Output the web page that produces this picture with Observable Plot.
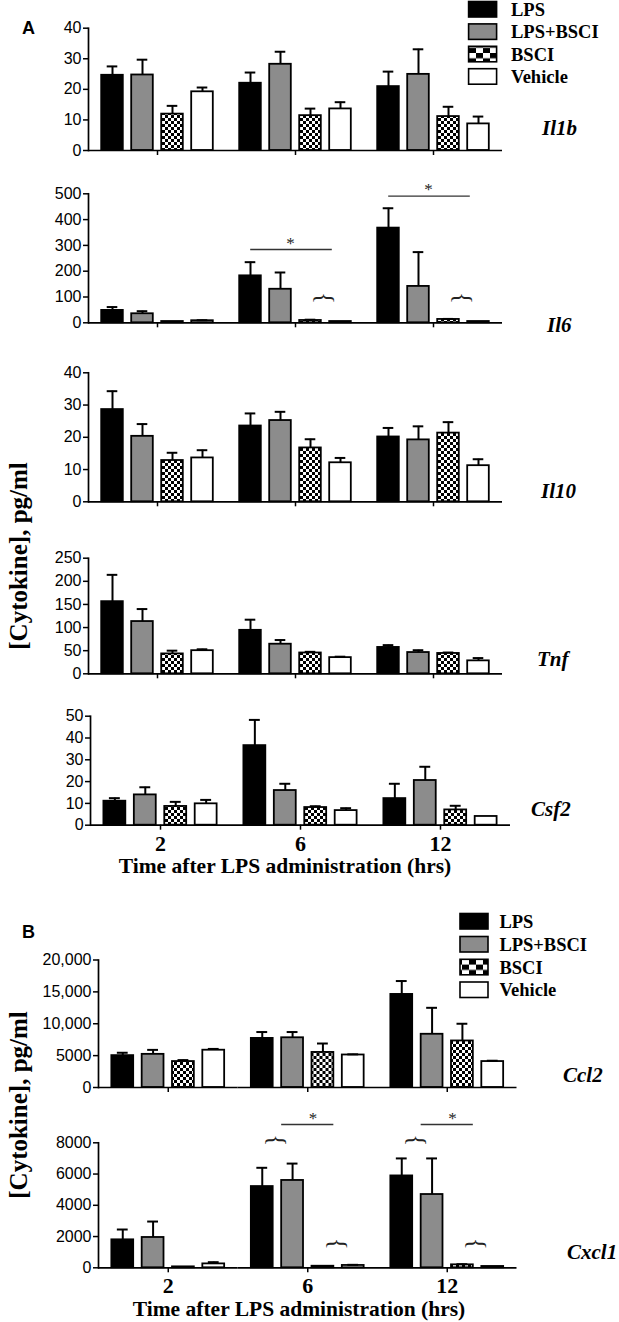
<!DOCTYPE html>
<html><head><meta charset="utf-8">
<script src="https://cdn.jsdelivr.net/npm/d3@7"></script>
<script src="https://cdn.jsdelivr.net/npm/@observablehq/plot@0.6"></script>
<style>
body{margin:0;background:#fff;}
#root{position:relative;width:619px;height:1322px;overflow:hidden;background:#fff;}
.abs{position:absolute;line-height:1;white-space:nowrap;color:#000;}
.gene{font:italic bold 21px "Liberation Serif","Times New Roman",serif;transform:translateY(-50%);}
.letter{font:bold 18px "Liberation Sans",Arial,sans-serif;transform:translateY(-50%);}
.title{font:bold 21.5px "Liberation Serif","Times New Roman",serif;transform:translate(-50%,-50%);}
.ylab{font:bold 25px "Liberation Serif","Times New Roman",serif;transform:translate(-50%,-50%) rotate(-90deg);}
</style></head><body><div id="root"></div>
<script>
// ---------- data ----------
const groups = ["LPS", "LPS+BSCI", "BSCI", "Vehicle"];
const times = ["2", "6", "12"];

const il1bMean = [[24.6, 24.7, 11.9, 19.2], [22.0, 28.2, 11.4, 13.6], [20.9, 24.9, 11.1, 8.7]];
const il1bSem  = [[2.9, 5.0, 2.7, 1.4], [3.5, 4.1, 2.3, 2.2], [4.9, 8.2, 3.2, 2.4]];
const il1bTicks = [0, 10, 20, 30, 40];

const il6Mean = [[48, 35, 5, 8], [182, 130, 9, 5], [367, 141, 13, 5]];
const il6Sem  = [[13, 10, 0, 2], [53, 65, 3, 0], [77, 133, 2, 0]];
const il6Ticks = [0, 100, 200, 300, 400, 500];

const il10Mean = [[28.6, 20.3, 12.8, 13.6], [23.5, 25.2, 16.7, 12.1], [20.1, 19.2, 21.3, 11.2]];
const il10Sem  = [[5.7, 3.8, 2.4, 2.4], [3.9, 2.7, 2.7, 1.5], [2.8, 4.2, 3.4, 2.0]];
const il10Ticks = [0, 10, 20, 30, 40];

const tnfMean = [[156, 113, 43, 50], [94, 64, 45, 35], [57, 46, 44, 28]];
const tnfSem  = [[58, 27, 7, 3], [23, 9, 2.5, 2], [5, 5, 2, 6]];
const tnfTicks = [0, 50, 100, 150, 200, 250];

const csf2Mean = [[11, 13.9, 8.6, 9.8], [36.5, 15.9, 8.1, 6.7], [12.2, 20.5, 7.0, 4.0]];
const csf2Sem  = [[1.4, 3.5, 2.1, 1.8], [11.8, 3.1, 0.6, 1.1], [6.8, 6.3, 1.9, 0]];
const csf2Ticks = [0, 10, 20, 30, 40, 50];

const ccl2Mean = [[5000, 5200, 4070, 5850], [7700, 7800, 5500, 5100], [14600, 8350, 7300, 4070]];
const ccl2Sem  = [[450, 700, 230, 200], [1000, 900, 1400, 100], [2100, 4150, 2700, 130]];
const ccl2Ticks = [0, 5000, 10000, 15000, 20000];
const ccl2TickLabels = ["0", "5000", "10,000", "15,000", "20,000"];

const cxcl1Mean = [[1790, 1940, 60, 250], [5200, 5590, 100, 150], [5880, 4690, 190, 85]];
const cxcl1Sem  = [[660, 1020, 0, 110], [1200, 1080, 0, 40], [1120, 2310, 40, 0]];
const cxcl1Ticks = [0, 2000, 4000, 6000, 8000];

// significance annotations
const il6Braces = [{time: "6", at: "BSCI", y: 96}, {time: "12", at: "BSCI", y: 96}];
const il6Sig = [{time: "6", from: "LPS", to: "BSCI", star: "LPS+BSCI", y: 284}, {time: "12", from: "LPS", to: "BSCI", star: "LPS+BSCI", y: 491}];
const cxcl1Braces = [
  {time: "6", at: "LPS", y: 8166}, {time: "6", at: "BSCI", y: 1536},
  {time: "12", at: "LPS", y: 8166}, {time: "12", at: "BSCI", y: 1536}];
const cxcl1Sig = [{time: "6", from: "LPS+BSCI", to: "BSCI", star: "BSCI", y: 9171}, {time: "12", from: "LPS+BSCI", to: "BSCI", star: "BSCI", y: 9171}];

const fills = ["#000000", "#8c8c8c", "url(#chk)", "#ffffff"];
const legendFills = ["#000000", "#8c8c8c", "url(#chkL)", "#ffffff"];

// ---------- page ----------
const root = document.getElementById("root");
root.insertAdjacentHTML("beforeend", `
<svg width="0" height="0" style="position:absolute">
 <defs>
  <pattern id="chk" patternUnits="userSpaceOnUse" width="6" height="6">
   <rect width="6" height="6" fill="#fff"/><rect width="3" height="3" fill="#000"/><rect x="3" y="3" width="3" height="3" fill="#000"/>
  </pattern>
  <pattern id="chkL" patternUnits="userSpaceOnUse" width="14" height="10.6">
   <rect width="14" height="10.6" fill="#fff"/><rect width="7" height="5.3" fill="#000"/><rect x="7" y="5.3" width="7" height="5.3" fill="#000"/>
  </pattern>
 </defs>
</svg>`);

function addText(cls, text, x, y) {
  const d = document.createElement("div");
  d.className = "abs " + cls;
  d.textContent = text;
  d.style.left = x + "px";
  d.style.top = y + "px";
  root.appendChild(d);
}

function legend(x0, textX, rows) {
  const ns = "http://www.w3.org/2000/svg";
  const s = document.createElementNS(ns, "svg");
  s.setAttribute("width", 619); s.setAttribute("height", 1322);
  s.style.position = "absolute"; s.style.left = "0"; s.style.top = "0"; s.style.overflow = "visible";
  groups.forEach((g, i) => {
    const r = document.createElementNS(ns, "rect");
    r.setAttribute("x", x0); r.setAttribute("y", rows[i] - 8);
    r.setAttribute("width", 28); r.setAttribute("height", 15.5);
    r.setAttribute("fill", legendFills[i]); r.setAttribute("stroke", "#000"); r.setAttribute("stroke-width", 1.6);
    s.appendChild(r);
    const t = document.createElementNS(ns, "text");
    t.setAttribute("x", textX); t.setAttribute("y", rows[i]);
    t.setAttribute("dy", "0.35em");
    t.setAttribute("font-family", "Liberation Serif, Times New Roman, serif");
    t.setAttribute("font-weight", "bold"); t.setAttribute("font-size", "18.5");
    t.textContent = g;
    s.appendChild(t);
  });
  root.appendChild(s);
}

function panel(means, sems, yTicks, tickLabels, L, showX, extra) {
  const data = [];
  times.forEach((t, i) => groups.forEach((g, j) => data.push({time: t, group: g, value: means[i][j], err: sems[i][j]})));
  const withErr = data.filter(d => d.err > 0);
  const labelMap = new Map(yTicks.map((v, i) => [v, tickLabels ? tickLabels[i] : String(v)]));
  const height = (L.y0 - L.T) + L.mb;
  const p = Plot.plot({
    width: 619, height,
    marginTop: L.yTop - L.T, marginBottom: L.mb, marginLeft: L.ml, marginRight: 619 - L.xEnd,
    fx: {domain: times, padding: 0, axis: null, round: false, label: null},
    x: {domain: groups, paddingInner: 0.28, paddingOuter: 0.44, axis: null, round: false},
    y: {domain: [0, yTicks[yTicks.length - 1]], axis: null},
    color: {type: "ordinal", domain: groups, range: fills},
    style: {background: "transparent", color: "black", overflow: "visible"},
    marks: [
      Plot.barY(data, {fx: "time", x: "group", y: "value", fill: "group", stroke: "black", strokeWidth: 1.8}),
      Plot.ruleX(withErr, {fx: "time", x: "group", y1: "value", y2: d => d.value + d.err, stroke: "black", strokeWidth: 2}),
      Plot.tickY(withErr, {fx: "time", x: "group", y: d => d.value + d.err, stroke: "black", strokeWidth: 2, inset: 5.5}),
      Plot.ruleY([0], {stroke: "black", strokeWidth: 1.7}),
      Plot.frame({anchor: "left", facetAnchor: "left", stroke: "black", strokeWidth: 1.7}),
      Plot.axisY({ticks: yTicks, tickFormat: d => labelMap.get(d), tickSize: 5, tickPadding: 2, strokeWidth: 1.5,
        fontSize: 16, fontFamily: "Liberation Sans, Arial, sans-serif", label: null}),
      Plot.axisFx({anchor: "bottom", tickSize: 5, tickPadding: 5, strokeWidth: 1.5,
        tickFormat: showX ? (d => d) : (() => ""), fontSize: 22, fontWeight: "bold",
        fontFamily: "Liberation Serif, Times New Roman, serif", label: null}),
      ...(extra || [])
    ]
  });
  p.style.position = "absolute";
  p.style.left = "0px";
  p.style.top = L.T + "px";
  p.style.maxWidth = "none";
  root.appendChild(p);
}

function braceMark(b) {
  return Plot.text(b, {fx: "time", x: "at", y: "y", text: () => "{", rotate: 90, dx: 15,
    fontSize: 25, fontFamily: "Liberation Serif, Times New Roman, serif", textAnchor: "middle", lineAnchor: "middle", fill: "#222"});
}
function sigMarks(s, ruleDx, starDx) {
  return [
    Plot.ruleY(s, {fx: "time", x1: "from", x2: "to", y: "y", dx: ruleDx, stroke: "#333", strokeWidth: 1.4}),
    Plot.text(s, {fx: "time", x: "star", y: "y", text: () => "*", dx: starDx, dy: -1, lineAnchor: "bottom",
      fontSize: 17, fontFamily: "Liberation Serif, Times New Roman, serif", fill: "#222"})
  ];
}

panel(il1bMean, il1bSem, il1bTicks, null, {T: 10, yTop: 27.7, y0: 150, ml: 88, xEnd: 502, mb: 10}, false);
panel(il6Mean, il6Sem, il6Ticks, null, {T: 165, yTop: 193.3, y0: 322.3, ml: 88, xEnd: 502, mb: 10}, false,
  [braceMark(il6Braces), ...sigMarks(il6Sig, 11, 10)]);
panel(il10Mean, il10Sem, il10Ticks, null, {T: 340, yTop: 372.3, y0: 501.3, ml: 88, xEnd: 502, mb: 10}, false);
panel(tnfMean, tnfSem, tnfTicks, null, {T: 520, yTop: 557.7, y0: 673.3, ml: 88, xEnd: 502, mb: 10}, false);
panel(csf2Mean, csf2Sem, csf2Ticks, null, {T: 690, yTop: 715.7, y0: 824.7, ml: 90, xEnd: 510, mb: 40}, true);
panel(ccl2Mean, ccl2Sem, ccl2Ticks, ccl2TickLabels, {T: 930, yTop: 959.5, y0: 1087, ml: 98, xEnd: 516.5, mb: 10}, false);
panel(cxcl1Mean, cxcl1Sem, cxcl1Ticks, null, {T: 1100, yTop: 1142.3, y0: 1267.3, ml: 98, xEnd: 516.5, mb: 35}, true,
  [braceMark(cxcl1Braces), ...sigMarks(cxcl1Sig, 0, -10)]);

legend(468.6, 511, [9.5, 31.9, 54.3, 76.7]);
legend(460, 499.4, [921.5, 944.5, 967.3, 990]);

addText("letter", "A", 22, 28);
addText("letter", "B", 22, 932);
addText("gene", "Il1b", 542, 128);
addText("gene", "Il6", 547, 325);
addText("gene", "Il10", 541, 491);
addText("gene", "Tnf", 537, 659);
addText("gene", "Csf2", 531, 809);
addText("gene", "Ccl2", 563, 1075);
addText("gene", "Cxcl1", 567, 1252);
addText("title", "Time after LPS administration (hrs)", 285, 866);
addText("title", "Time after LPS administration (hrs)", 299, 1309);
addText("ylab", "[Cytokine], pg/ml", 19, 556);
addText("ylab", "[Cytokine], pg/ml", 19, 1105);
</script></body></html>
